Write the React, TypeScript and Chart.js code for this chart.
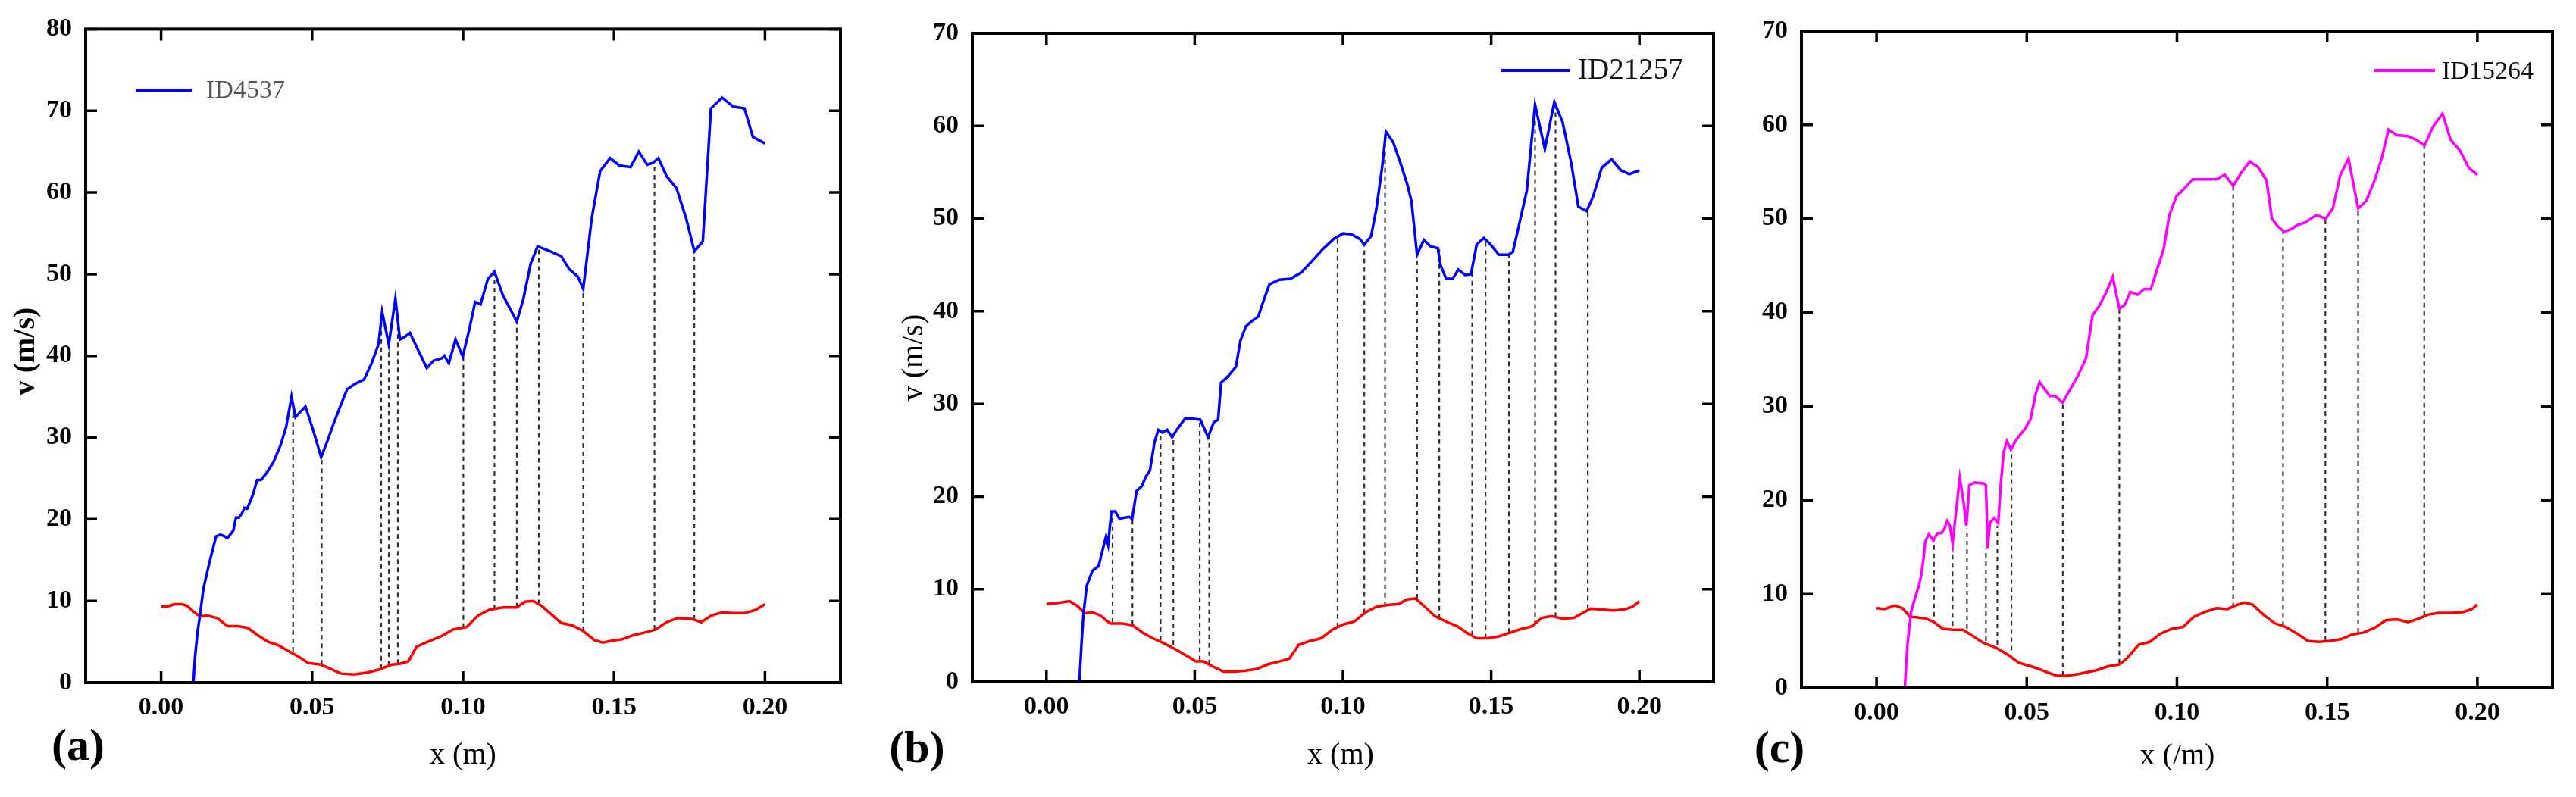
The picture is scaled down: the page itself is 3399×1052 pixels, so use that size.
import { useEffect, useRef } from "react";
import { Chart, registerables } from "chart.js";

Chart.register(...registerables);

type Pt = [number, number];
type Drop = [number, number, number]; // x, top (on the upper curve), bottom (on the red curve)

const X_TICKS = [0, 0.05, 0.1, 0.15, 0.2];
const Y_TICKS_A = [0, 10, 20, 30, 40, 50, 60, 70, 80];
const Y_TICKS_BC = [0, 10, 20, 30, 40, 50, 60, 70];

// (a) ID4537
const A_BLUE: Pt[] = [
  [0.0107, 0], [0.0112, 3], [0.012, 6], [0.0128, 8.1], [0.014, 11.5], [0.0153, 13.6],
  [0.0166, 15.6], [0.0182, 17.9], [0.0195, 18.1], [0.0205, 18.0], [0.022, 17.7], [0.0239, 18.6],
  [0.0248, 20.2], [0.0258, 20.2], [0.0269, 20.8], [0.0276, 21.4], [0.0285, 21.3], [0.0304, 23.0],
  [0.0318, 24.8], [0.0331, 24.8], [0.035, 25.7], [0.0372, 27.0], [0.0396, 29.1], [0.0414, 31.3],
  [0.0432, 35.0], [0.0445, 32.5], [0.046, 33.1], [0.0478, 33.8], [0.0506, 30.6], [0.053, 27.6],
  [0.0552, 29.7], [0.057, 31.6], [0.0592, 33.7], [0.0616, 35.9], [0.0644, 36.6], [0.0672, 37.1],
  [0.0696, 39.0], [0.0708, 40.2], [0.072, 41.4], [0.0732, 45.4], [0.0754, 41.4], [0.0776, 47.0],
  [0.0791, 42.0], [0.0806, 42.3], [0.0824, 42.8], [0.0846, 41.1], [0.088, 38.5], [0.0902, 39.4],
  [0.0929, 39.7], [0.0938, 40.0], [0.0953, 39.1], [0.0975, 42.0], [0.0999, 39.9], [0.1021, 43.3],
  [0.104, 46.6], [0.1058, 46.3], [0.1082, 49.4], [0.1104, 50.3], [0.1132, 47.4], [0.1178, 44.2],
  [0.12, 47.0], [0.1224, 51.3], [0.1247, 53.4], [0.1288, 52.8], [0.1325, 52.2], [0.1352, 50.6],
  [0.138, 49.7], [0.1398, 48.2], [0.1426, 56.8], [0.1454, 62.6], [0.1487, 64.2], [0.1518, 63.3],
  [0.1555, 63.1], [0.1582, 65.0], [0.161, 63.4], [0.1628, 63.6], [0.1647, 64.2], [0.1674, 62.0],
  [0.1707, 60.5], [0.1739, 56.8], [0.1766, 52.8], [0.1794, 54.0], [0.1821, 70.3], [0.1858, 71.6],
  [0.1895, 70.5], [0.1932, 70.3], [0.196, 66.8], [0.2, 66.0],
];
const A_RED: Pt[] = [
  [0, 9.3], [0.002, 9.3], [0.0044, 9.6], [0.0069, 9.6], [0.0086, 9.4], [0.0107, 8.7],
  [0.0128, 8.1], [0.0153, 8.2], [0.0186, 7.9], [0.022, 6.9], [0.0253, 6.9], [0.0287, 6.7],
  [0.032, 5.8], [0.0354, 5.0], [0.0387, 4.6], [0.042, 3.9], [0.0454, 3.2], [0.0487, 2.4],
  [0.0529, 2.2], [0.0554, 1.8], [0.0596, 1.1], [0.0638, 1.0], [0.068, 1.2], [0.0722, 1.6],
  [0.0764, 2.2], [0.0791, 2.3], [0.0819, 2.6], [0.0846, 4.4], [0.0883, 5.0], [0.0929, 5.7],
  [0.0966, 6.5], [0.1012, 6.8], [0.1049, 8.2], [0.1086, 8.9], [0.1132, 9.2], [0.1178, 9.2],
  [0.1205, 9.9], [0.1233, 10.0], [0.126, 9.4], [0.1288, 8.5], [0.1325, 7.3], [0.1362, 7.0],
  [0.1398, 6.3], [0.1435, 5.2], [0.1463, 4.9], [0.149, 5.1], [0.1527, 5.3], [0.1564, 5.8],
  [0.161, 6.2], [0.1638, 6.5], [0.1674, 7.4], [0.1711, 7.9], [0.1757, 7.8], [0.1789, 7.4],
  [0.1822, 8.2], [0.1858, 8.6], [0.1895, 8.5], [0.1932, 8.5], [0.1969, 8.9], [0.2, 9.6],
];
const A_DROPS: Drop[] = [
  [0.0437, 34.3, 3.8], [0.0532, 27.6, 2.2], [0.0729, 44.0, 1.7], [0.0754, 41.4, 2.1],
  [0.0784, 43.5, 2.3], [0.1001, 39.9, 6.7], [0.1104, 50.3, 9.0], [0.1178, 44.2, 9.2],
  [0.1251, 53.3, 9.6], [0.1398, 48.2, 6.3], [0.1634, 63.6, 6.5], [0.1766, 52.8, 7.7],
];

// (b) ID21257
const B_BLUE: Pt[] = [
  [0.0111, 0], [0.0118, 4], [0.0125, 7.4], [0.0136, 10.4], [0.0155, 12.0], [0.0176, 12.5],
  [0.0189, 14.2], [0.0201, 15.7], [0.0208, 14.8], [0.0219, 18.4], [0.0232, 18.4], [0.0246, 17.6],
  [0.026, 17.7], [0.0279, 17.8], [0.0289, 17.6], [0.0304, 20.6], [0.0321, 21.1], [0.0336, 22.2],
  [0.0349, 22.8], [0.0364, 25.8], [0.0377, 27.2], [0.0392, 26.9], [0.0407, 27.2], [0.0424, 26.4],
  [0.0439, 27.2], [0.0467, 28.4], [0.0495, 28.4], [0.0519, 28.3], [0.0545, 26.4], [0.0564, 28.0],
  [0.0579, 28.3], [0.0589, 32.3], [0.0607, 32.8], [0.0626, 33.5], [0.0639, 34.0], [0.0654, 36.8],
  [0.0673, 38.4], [0.0695, 39.0], [0.0714, 39.4], [0.0733, 41.2], [0.0752, 42.9], [0.0785, 43.4],
  [0.0823, 43.5], [0.086, 44.2], [0.0898, 45.5], [0.0932, 46.7], [0.0969, 47.8], [0.1001, 48.4],
  [0.1029, 48.3], [0.1057, 47.8], [0.1072, 47.2], [0.1095, 48.1], [0.1113, 51.1], [0.1132, 55.5],
  [0.1145, 59.4], [0.117, 58.2], [0.1194, 56.0], [0.1216, 53.8], [0.1231, 51.9], [0.125, 46.1],
  [0.1273, 47.7], [0.1295, 47.0], [0.132, 46.8], [0.1329, 45.0], [0.1348, 43.5], [0.137, 43.5],
  [0.1389, 44.5], [0.1413, 43.9], [0.1432, 44.0], [0.1451, 47.2], [0.1475, 47.9], [0.1498, 47.2],
  [0.1526, 46.1], [0.1558, 46.1], [0.1573, 46.4], [0.1591, 48.9], [0.162, 53.0], [0.1648, 62.3],
  [0.1681, 57.5], [0.1713, 62.6], [0.1741, 60.4], [0.177, 56.0], [0.1794, 51.3], [0.1822, 50.8],
  [0.1844, 52.4], [0.1873, 55.5], [0.1906, 56.4], [0.1938, 55.2], [0.1966, 54.8], [0.2, 55.2],
];
const B_RED: Pt[] = [
  [0, 8.4], [0.0036, 8.5], [0.0078, 8.7], [0.0104, 8.2], [0.0129, 7.4], [0.0155, 7.5],
  [0.018, 7.2], [0.0215, 6.3], [0.0257, 6.3], [0.0291, 6.1], [0.0325, 5.3], [0.0359, 4.7],
  [0.0394, 4.2], [0.0436, 3.5], [0.0479, 2.7], [0.0504, 2.2], [0.053, 2.2], [0.0564, 1.6],
  [0.0598, 1.1], [0.0635, 1.1], [0.0673, 1.2], [0.071, 1.4], [0.0748, 1.9], [0.0785, 2.2],
  [0.0819, 2.5], [0.0851, 4.0], [0.0888, 4.4], [0.0926, 4.7], [0.0963, 5.6], [0.1001, 6.2],
  [0.1038, 6.5], [0.1076, 7.5], [0.1113, 8.1], [0.1151, 8.3], [0.1188, 8.4], [0.1216, 8.9],
  [0.1245, 9.0], [0.1273, 8.2], [0.131, 7.1], [0.1348, 6.5], [0.1385, 6.0], [0.1423, 5.2],
  [0.1451, 4.7], [0.1488, 4.7], [0.1526, 4.9], [0.1563, 5.3], [0.1601, 5.7], [0.1638, 6.0],
  [0.167, 6.9], [0.1704, 7.1], [0.1741, 6.8], [0.1779, 6.9], [0.1807, 7.4], [0.1835, 7.9],
  [0.1873, 7.8], [0.191, 7.7], [0.1948, 7.8], [0.1976, 8.1], [0.2, 8.7],
];
const B_DROPS: Drop[] = [
  [0.0223, 18.4, 6.4], [0.029, 17.6, 6.2], [0.0385, 27.0, 4.5], [0.0428, 26.5, 4.0],
  [0.0517, 28.3, 2.3], [0.0549, 26.6, 1.9], [0.0982, 48.1, 5.9], [0.1072, 47.2, 7.4],
  [0.1142, 59.2, 8.2], [0.125, 46.1, 9.0], [0.1325, 46.7, 6.8], [0.1436, 44.2, 5.0],
  [0.1481, 47.9, 4.7], [0.156, 46.1, 5.3], [0.1648, 62.3, 6.1], [0.1717, 62.5, 7.0],
  [0.1826, 50.8, 7.9],
];

// (c) ID15264
const C_PINK: Pt[] = [
  [0.0094, 0], [0.0103, 4.7], [0.0115, 8.1], [0.0128, 9.6], [0.0141, 10.9], [0.0149, 12.1],
  [0.0157, 14.0], [0.0162, 15.6], [0.0174, 16.4], [0.0189, 15.7], [0.0203, 16.5], [0.0216, 16.5],
  [0.0226, 17.0], [0.0235, 17.8], [0.0244, 17.3], [0.0253, 15.4], [0.0266, 19.2], [0.0277, 22.4],
  [0.029, 19.7], [0.0299, 17.3], [0.0309, 21.6], [0.0327, 21.9], [0.0355, 21.8], [0.0364, 21.6],
  [0.037, 14.9], [0.0377, 17.6], [0.0392, 18.1], [0.0405, 17.6], [0.0414, 21.9], [0.0423, 25.1],
  [0.0434, 26.3], [0.0447, 25.4], [0.0466, 26.5], [0.0494, 27.6], [0.0512, 28.6], [0.053, 31.4],
  [0.0543, 32.6], [0.0558, 31.9], [0.0577, 31.1], [0.0595, 31.1], [0.0619, 30.4], [0.0641, 31.6],
  [0.0669, 33.2], [0.0697, 35.1], [0.0719, 39.7], [0.0743, 40.8], [0.0765, 42.2], [0.0786, 43.8],
  [0.0808, 40.4], [0.0826, 40.8], [0.0845, 42.2], [0.0869, 41.9], [0.0891, 42.5], [0.0913, 42.5],
  [0.0937, 44.9], [0.0956, 46.8], [0.0974, 50.3], [0.0998, 52.4], [0.1024, 53.2], [0.1052, 54.2],
  [0.1094, 54.2], [0.1131, 54.2], [0.1159, 54.7], [0.1187, 53.5], [0.1214, 54.9], [0.1242, 56.1],
  [0.127, 55.5], [0.1298, 54.1], [0.1316, 50.0], [0.1335, 49.2], [0.1357, 48.6], [0.1381, 48.9],
  [0.1399, 49.3], [0.1427, 49.6], [0.1464, 50.4], [0.1495, 50.0], [0.1519, 51.1], [0.1543, 54.6],
  [0.1571, 56.4], [0.1603, 51.1], [0.163, 51.9], [0.1658, 54.1], [0.1682, 56.5], [0.1704, 59.5],
  [0.1732, 58.9], [0.1769, 58.8], [0.1797, 58.4], [0.1824, 57.8], [0.1852, 59.8], [0.1884, 61.2],
  [0.1911, 58.4], [0.1941, 57.3], [0.1972, 55.4], [0.2, 54.7],
];
const C_RED: Pt[] = [
  [0, 8.5], [0.0027, 8.4], [0.0061, 8.8], [0.0086, 8.5], [0.0111, 7.6], [0.0136, 7.5],
  [0.0162, 7.4], [0.0187, 7.1], [0.0221, 6.3], [0.0254, 6.2], [0.0288, 6.2], [0.0322, 5.5],
  [0.0355, 4.8], [0.0397, 4.3], [0.0439, 3.5], [0.0473, 2.7], [0.0524, 2.2], [0.0557, 1.8],
  [0.0599, 1.3], [0.0633, 1.3], [0.0675, 1.5], [0.0734, 1.9], [0.0771, 2.3], [0.0808, 2.5],
  [0.0835, 3.2], [0.0872, 4.6], [0.0909, 4.9], [0.0946, 5.8], [0.0983, 6.3], [0.102, 6.5],
  [0.1057, 7.6], [0.1094, 8.1], [0.1131, 8.5], [0.1168, 8.4], [0.1196, 8.8], [0.1224, 9.1],
  [0.1251, 8.9], [0.1288, 7.8], [0.1325, 6.9], [0.1362, 6.5], [0.1399, 5.8], [0.1436, 5.0],
  [0.1473, 4.9], [0.151, 5.0], [0.1547, 5.2], [0.1584, 5.7], [0.1621, 5.9], [0.1658, 6.4],
  [0.1695, 7.2], [0.1732, 7.3], [0.1769, 7.0], [0.1806, 7.4], [0.1834, 7.8], [0.1871, 8.0],
  [0.1917, 8.0], [0.1954, 8.1], [0.1982, 8.4], [0.2, 8.9],
];
const C_DROPS: Drop[] = [
  [0.0191, 15.7, 7.6], [0.0253, 15.4, 6.6], [0.0301, 17.0, 6.3], [0.0364, 14.9, 5.0],
  [0.0402, 17.3, 4.6], [0.0449, 25.4, 4.0], [0.062, 30.4, 1.3], [0.0808, 40.4, 2.6],
  [0.1187, 53.5, 8.6], [0.1353, 48.6, 6.6], [0.1494, 50.0, 5.0], [0.1603, 51.1, 5.9],
  [0.1823, 57.8, 7.7],
];

const H = 1052;
const SERIF = "'Liberation Serif', 'Times New Roman', serif";

type Area = { l: number; t: number; r: number; b: number };
type Label = { text: string; x: number; y: number; font: string };

type PanelProps = {
  left: number;
  width: number;
  area: Area;
  yMax: number;
  yTicks: number[];
  curve: Pt[];
  curveColor: string;
  red: Pt[];
  drops: Drop[];
  legend: { text: string; x1: number; x2: number; y: number; tx: number; ty: number; font: string; color: string };
  xTitle: Label;
  yTitle?: Label;
  letter: Label;
};

// frame with inward ticks on four sides, in-plot legend, axis titles and panel letter
const decor = {
  id: "decor",
  afterDraw(chart: any, _args: any, opts: any) {
    const { ctx, chartArea: a } = chart;
    const xs = chart.scales.x;
    const ys = chart.scales.y;
    ctx.save();
    ctx.strokeStyle = "#000";
    ctx.lineWidth = 3.5;
    ctx.beginPath();
    for (const v of X_TICKS) {
      const px = xs.getPixelForValue(v);
      ctx.moveTo(px, a.bottom);
      ctx.lineTo(px, a.bottom - 15);
      ctx.moveTo(px, a.top);
      ctx.lineTo(px, a.top + 15);
    }
    for (const v of opts.yTicks) {
      const py = ys.getPixelForValue(v);
      ctx.moveTo(a.left, py);
      ctx.lineTo(a.left + 15, py);
      ctx.moveTo(a.right, py);
      ctx.lineTo(a.right - 15, py);
    }
    ctx.stroke();
    ctx.lineWidth = 4;
    ctx.strokeRect(a.left, a.top, a.right - a.left, a.bottom - a.top);

    const lg = opts.legend;
    ctx.strokeStyle = opts.curveColor;
    ctx.lineWidth = 4;
    ctx.beginPath();
    ctx.moveTo(lg.x1, lg.y);
    ctx.lineTo(lg.x2, lg.y);
    ctx.stroke();
    ctx.fillStyle = lg.color;
    ctx.font = lg.font;
    ctx.textAlign = "left";
    ctx.textBaseline = "middle";
    ctx.fillText(lg.text, lg.tx, lg.ty);

    ctx.fillStyle = "#000";
    ctx.textAlign = "center";
    const xt = opts.xTitle;
    ctx.font = xt.font;
    ctx.fillText(xt.text, xt.x, xt.y);
    const lt = opts.letter;
    ctx.font = lt.font;
    ctx.fillText(lt.text, lt.x, lt.y);
    const yt = opts.yTitle;
    if (yt) {
      ctx.save();
      ctx.translate(yt.x, yt.y);
      ctx.rotate(-Math.PI / 2);
      ctx.font = yt.font;
      ctx.fillText(yt.text, 0, 0);
      ctx.restore();
    }
    ctx.restore();
  },
};

function Panel(p: PanelProps) {
  const canvasRef = useRef<HTMLCanvasElement>(null);

  useEffect(() => {
    if (!canvasRef.current) return;
    const tickFont = { family: SERIF, size: 34, weight: "bold" as const };
    const chart = new Chart(canvasRef.current, {
      type: "line",
      data: {
        datasets: [
          {
            data: p.curve.map(([x, y]) => ({ x, y })),
            borderColor: p.curveColor,
            borderWidth: 3.5,
            pointRadius: 0,
            tension: 0,
          },
          {
            data: p.red.map(([x, y]) => ({ x, y })),
            borderColor: "#ff0000",
            borderWidth: 3.5,
            pointRadius: 0,
            tension: 0,
          },
          {
            data: p.drops.flatMap(([x, top, bot]) => [
              { x, y: bot },
              { x, y: top },
              { x, y: null as any },
            ]),
            borderColor: "#333",
            borderWidth: 2.2,
            borderDash: [6, 5],
            pointRadius: 0,
            spanGaps: false,
          },
        ],
      },
      options: {
        responsive: false,
        animation: false,
        devicePixelRatio: 1,
        layout: { padding: { left: 0, top: p.area.t, right: p.width - p.area.r, bottom: 0 } },
        plugins: {
          legend: { display: false },
          tooltip: { enabled: false },
          decor: {
            yTicks: p.yTicks,
            legend: p.legend,
            curveColor: p.curveColor,
            xTitle: p.xTitle,
            yTitle: p.yTitle,
            letter: p.letter,
          },
        } as any,
        scales: {
          x: {
            type: "linear",
            min: -0.025,
            max: 0.225,
            grid: { display: false, drawTicks: false },
            border: { display: false },
            afterBuildTicks: (s: any) => {
              s.ticks = X_TICKS.map((value) => ({ value }));
            },
            afterFit: (s: any) => {
              s.height = H - p.area.b;
            },
            ticks: {
              font: tickFont,
              color: "#000",
              padding: 13,
              maxRotation: 0,
              autoSkip: false,
              callback: (v: any) => Number(v).toFixed(2),
            },
          },
          y: {
            type: "linear",
            min: 0,
            max: p.yMax,
            grid: { display: false, drawTicks: false },
            border: { display: false },
            afterBuildTicks: (s: any) => {
              s.ticks = p.yTicks.map((value) => ({ value }));
            },
            afterFit: (s: any) => {
              s.width = p.area.l;
            },
            ticks: {
              font: tickFont,
              color: "#000",
              padding: 18,
              autoSkip: false,
              callback: (v: any) => String(v),
            },
          },
        },
      },
      plugins: [decor],
    });
    return () => {
      chart.destroy();
    };
  }, []);

  return (
    <canvas
      ref={canvasRef}
      width={p.width}
      height={H}
      style={{ position: "absolute", left: p.left, top: 0, width: p.width, height: H }}
    />
  );
}

export default function App() {
  const titleFont = `40px ${SERIF}`;
  const letterFont = `bold 60px ${SERIF}`;
  return (
    <div style={{ position: "absolute", left: 0, top: 0, width: 3399, height: H, background: "#fff" }}>
      <Panel
        left={0}
        width={1140}
        area={{ l: 113, t: 31, r: 1109, b: 901 }}
        yMax={80}
        yTicks={Y_TICKS_A}
        curve={A_BLUE}
        curveColor="#0000ff"
        red={A_RED}
        drops={A_DROPS}
        legend={{ text: "ID4537", x1: 179, x2: 253, y: 119, tx: 272, ty: 120, font: `34px ${SERIF}`, color: "#555" }}
        xTitle={{ text: "x (m)", x: 611, y: 997, font: titleFont }}
        yTitle={{ text: "v (m/s)", x: 35, y: 464, font: `bold 40px ${SERIF}` }}
        letter={{ text: "(a)", x: 103, y: 987, font: letterFont }}
      />
      <Panel
        left={1140}
        width={1140}
        area={{ l: 143, t: 44, r: 1121, b: 900 }}
        yMax={70}
        yTicks={Y_TICKS_BC}
        curve={B_BLUE}
        curveColor="#0000ff"
        red={B_RED}
        drops={B_DROPS}
        legend={{ text: "ID21257", x1: 841, x2: 932, y: 93, tx: 942, ty: 94, font: `39px ${SERIF}`, color: "#111" }}
        xTitle={{ text: "x (m)", x: 629, y: 997, font: titleFont }}
        yTitle={{ text: "v (m/s)", x: 66, y: 472, font: titleFont }}
        letter={{ text: "(b)", x: 70, y: 990, font: letterFont }}
      />
      <Panel
        left={2280}
        width={1119}
        area={{ l: 97, t: 41, r: 1088, b: 908 }}
        yMax={70}
        yTicks={Y_TICKS_BC}
        curve={C_PINK}
        curveColor="#ff00ff"
        red={C_RED}
        drops={C_DROPS}
        legend={{ text: "ID15264", x1: 853, x2: 933, y: 93, tx: 942, ty: 95, font: `34px ${SERIF}`, color: "#111" }}
        xTitle={{ text: "x (/m)", x: 593, y: 998, font: titleFont }}
        letter={{ text: "(c)", x: 68, y: 990, font: letterFont }}
      />
    </div>
  );
}
